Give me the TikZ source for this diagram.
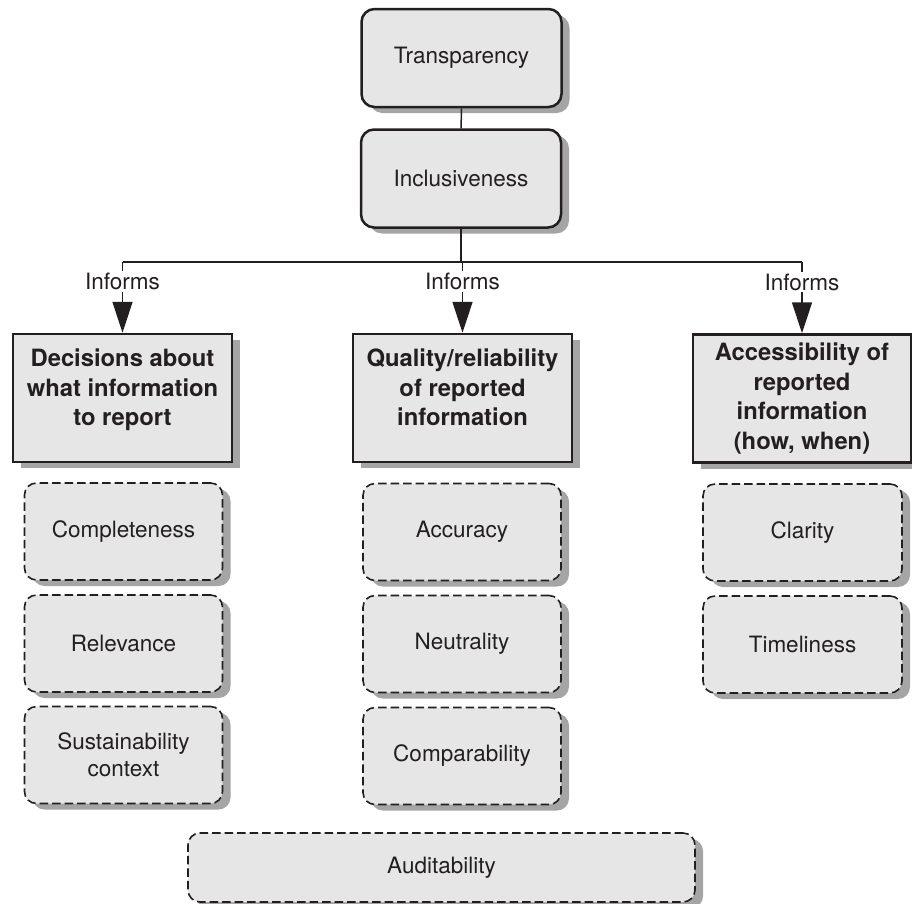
\documentclass[tikz,border=0pt]{standalone}
\usepackage{fontspec}
\setmainfont{TeX Gyre Heros}
\usetikzlibrary{arrows.meta,shadows}
\definecolor{boxfill}{HTML}{E6E6E6}
\definecolor{shade}{HTML}{A5A5A5}
\definecolor{ink}{HTML}{231F20}
\begin{document}
\begin{tikzpicture}[x=1pt,y=-1pt,
  every node/.style={text=ink, font=\fontsize{22.5}{27}\selectfont, align=center, inner sep=0pt},
  boxshadow/.style={drop shadow={shadow xshift=8pt, shadow yshift=-6pt, fill=shade, opacity=1}},
  topbox/.style={draw=ink, line width=2.5pt, fill=boxfill, rounded corners=13pt,
    minimum width=200pt, minimum height=98pt, boxshadow},
  groupbox/.style={draw=ink, line width=2.5pt, fill=boxfill,
    minimum width=219pt, minimum height=128pt, boxshadow,
    font=\bfseries\fontsize{23.8}{29.5}\selectfont},
  qualbox/.style={draw=ink, line width=1.6pt, dash pattern=on 8.5pt off 4pt, fill=boxfill,
    rounded corners=12pt, minimum width=198pt, minimum height=97pt, boxshadow},
  link/.style={draw=ink, line width=1.5pt},
  informs/.style={link, -{Triangle[length=31pt,width=20pt]}},
  tag/.style={fill=white, inner xsep=1pt, inner ysep=2pt}
]
\useasboundingbox (0,0) rectangle (912,903);

% principles at the top
\node[topbox] (transp) at (461.5,58) {Transparency};
\node[topbox] (incl) at (461,178.5) {Inclusiveness};

% three groups of report decisions
\node[groupbox] (decide) at (122.5,398) {Decisions about\\what information\\to report\\[-8pt]\mbox{}};
\node[groupbox] (quality) at (462.5,398) {Quality/reliability\\of reported\\information\\[-8pt]\mbox{}};
\node[groupbox, minimum width=218pt] (access) at (802,398.5) {Accessibility of\\reported\\information\\(how, when)};

% principles under each group
\node[qualbox] (compl) at (123.5,531.5) {Completeness};
\node[qualbox] (relev) at (123.5,643.5) {Relevance};
\node[qualbox] (sust) at (123.5,755) {Sustainability\\context};
\node[qualbox] (accur) at (462,532) {Accuracy};
\node[qualbox] (neutr) at (462,644) {Neutrality};
\node[qualbox] (compa) at (462,756) {Comparability};
\node[qualbox, minimum width=199pt] (clar) at (802.5,532.5) {Clarity};
\node[qualbox, minimum width=199pt] (timel) at (802.5,644.5) {Timeliness};
\node[qualbox, minimum width=507pt, minimum height=69pt] (audit) at (441.5,867.5) {Auditability};

% connectors
\coordinate (busL) at (decide.north |- 0,262);
\coordinate (busM) at (incl.south |- 0,262);
\coordinate (busQ) at (quality.north |- 0,262);
\coordinate (busR) at (access.north |- 0,262);

\draw[link] (transp) -- (incl);
\draw[link] (incl.south) -- (busM);
\draw[link] (busL) -- (busR);

\draw[informs] (busL) -- node[tag, pos=0.28] {Informs} (decide.north);
\draw[informs] (busQ) -- node[tag, pos=0.28] {Informs} (quality.north);
\draw[informs] (busR) -- node[tag, pos=0.28] {Informs} (access.north);
\end{tikzpicture}
\end{document}
